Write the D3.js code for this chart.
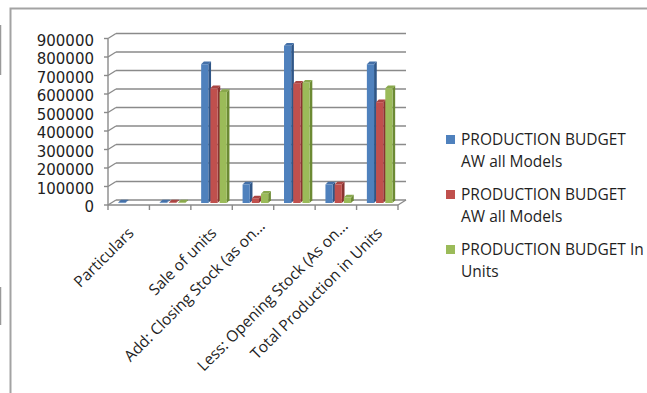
<!DOCTYPE html>
<html>
<head>
<meta charset="utf-8">
<script src="https://cdn.jsdelivr.net/npm/d3@7"></script>
<style>
  html, body { margin: 0; padding: 0; background: #fff; }
  svg { display: block; }
  text { font-family: "Open Sans", "Noto Sans", sans-serif; fill: #1f1f1f; }
  .ylab { font-family: "DejaVu Sans", "Open Sans", sans-serif; }
</style>
</head>
<body>
<svg id="chart" width="647" height="393"></svg>
<script>
// Production budget rows (category axis)
const categories = [
  "Particulars",
  "",
  "Sale of units",
  "Add: Closing Stock (as on...",
  "",
  "Less: Opening Stock (As on...",
  "Total Production in Units"
];

// Series values, one per category
const blueValues  = [3000, 3000, 750000, 100000, 850000, 100000, 750000];
const redValues   = [0,    3000, 620000,  25000, 645000, 100000, 545000];
const greenValues = [0,    3000, 600000,  50000, 650000,  30000, 620000];

// Legend text, wrapped the way it is shown
const legendLabels = [
  ["PRODUCTION BUDGET", "AW all Models"],
  ["PRODUCTION BUDGET", "AW all Models"],
  ["PRODUCTION BUDGET In", "Units"]
];

// Value axis ticks
const yTicks = [0, 100000, 200000, 300000, 400000, 500000, 600000, 700000, 800000, 900000];

const seriesValues = [blueValues, redValues, greenValues];
const faceColors = [
  { front: "#4f81bd", side: "#2f5687", top: "#4470a8" },
  { front: "#c0504d", side: "#8a3331", top: "#aa4542" },
  { front: "#9bbb59", side: "#6c8a34", top: "#89a84c" }
];

const svg = d3.select("#chart");

// Chart-area frame
svg.append("rect")
  .attr("x", 10.5).attr("y", 8.5).attr("width", 700).attr("height", 500)
  .attr("fill", "none").attr("stroke", "#a3a3a3").attr("stroke-width", 2);

// Fragments of neighbouring elements along the left margin
svg.append("line").attr("x1", 0.5).attr("x2", 0.5).attr("y1", 25).attr("y2", 75)
  .attr("stroke", "#9a9a9a").attr("stroke-width", 1.5);
svg.append("line").attr("x1", 0.5).attr("x2", 0.5).attr("y1", 287).attr("y2", 325)
  .attr("stroke", "#9a9a9a").attr("stroke-width", 1.5);

// Front-plane scales
const x = d3.scaleBand().domain(d3.range(categories.length)).range([108, 398]);
const xSub = d3.scaleBand().domain([0, 1, 2]).range([0, x.bandwidth()]).paddingOuter(0.75);
const y = d3.scaleLinear().domain([0, 900000]).range([205, 38.5]);

// Oblique offsets: wall depth, bar placement and bar depth
const wall = { dx: 8, dy: -5 };
const barOff = { dx: 3.4, dy: -2 };
const barDepth = { dx: 2.7, dy: -2.7 };
const barFrontRatio = 0.78;

const x0 = x.range()[0], x1 = x.range()[1];
const gridColor = "#8a8a8a";

// Back-wall and side-wall gridlines
const grid = svg.append("g");
yTicks.forEach(t => {
  const yf = y(t), yb = y(t) + wall.dy;
  grid.append("line")
    .attr("x1", x0 + wall.dx).attr("x2", x1 + wall.dx)
    .attr("y1", yb).attr("y2", yb)
    .attr("stroke", gridColor).attr("stroke-width", 1.4);
  grid.append("line")
    .attr("x1", x0).attr("y1", yf).attr("x2", x0 + wall.dx).attr("y2", yb)
    .attr("stroke", gridColor).attr("stroke-width", 1.4);
});

// Floor outline (front edge = category axis, right edge)
svg.append("line")
  .attr("x1", x0).attr("x2", x1).attr("y1", y(0)).attr("y2", y(0))
  .attr("stroke", gridColor).attr("stroke-width", 1.4);
svg.append("line")
  .attr("x1", x1).attr("y1", y(0)).attr("x2", x1 + wall.dx).attr("y2", y(0) + wall.dy)
  .attr("stroke", gridColor).attr("stroke-width", 1.4);

// Value axis line and ticks
svg.append("line")
  .attr("x1", x0).attr("x2", x0).attr("y1", y(900000)).attr("y2", y(0))
  .attr("stroke", gridColor).attr("stroke-width", 1.4);
const yAxis = svg.append("g");
yTicks.forEach(t => {
  yAxis.append("line")
    .attr("x1", x0 - 4).attr("x2", x0).attr("y1", y(t)).attr("y2", y(t))
    .attr("stroke", gridColor).attr("stroke-width", 1.4);
  yAxis.append("text")
    .attr("class", "ylab")
    .attr("x", 94).attr("y", y(t) + 2)
    .attr("text-anchor", "end").attr("dominant-baseline", "central")
    .style("font-size", "15px")
    .text(t);
});

// Category axis ticks at band boundaries
const bounds = d3.range(categories.length + 1).map(i => x0 + i * x.step());
bounds.forEach(bx => {
  svg.append("line")
    .attr("x1", bx).attr("x2", bx).attr("y1", y(0)).attr("y2", y(0) + 5)
    .attr("stroke", gridColor).attr("stroke-width", 1.4);
});

// Category labels, rotated
categories.forEach((c, i) => {
  if (!c) return;
  const cx = x(i) + x.bandwidth() / 2;
  const shift = c.endsWith("...") ? 7 : 0;
  svg.append("text")
    .attr("text-anchor", "end")
    .attr("transform", `translate(${cx + 6 + shift},${234 - shift}) rotate(-45)`)
    .style("font-size", "15.5px")
    .text(c);
});

// 3D columns, drawn left to right so nearer faces overlap correctly
const bars = svg.append("g");
categories.forEach((c, i) => {
  seriesValues.forEach((vals, s) => {
    const v = vals[i];
    if (!v) return;
    const w = xSub.bandwidth() * barFrontRatio;
    const xf = x(i) + xSub(s) + barOff.dx;
    const yBase = y(0) + barOff.dy;
    const yTop = y(v) + barOff.dy;
    const col = faceColors[s];
    const g = bars.append("g");
    g.append("polygon")
      .attr("points", [
        [xf + w, yTop], [xf + w + barDepth.dx, yTop + barDepth.dy],
        [xf + w + barDepth.dx, yBase + barDepth.dy], [xf + w, yBase]
      ].join(" "))
      .attr("fill", col.side);
    g.append("polygon")
      .attr("points", [
        [xf, yTop], [xf + barDepth.dx, yTop + barDepth.dy],
        [xf + w + barDepth.dx, yTop + barDepth.dy], [xf + w, yTop]
      ].join(" "))
      .attr("fill", col.top);
    g.append("rect")
      .attr("x", xf).attr("y", yTop)
      .attr("width", w).attr("height", Math.max(0.6, yBase - yTop))
      .attr("fill", col.front);
  });
});

// Legend
const legend = svg.append("g");
legendLabels.forEach((lines, i) => {
  const base = 145 + i * 55;
  legend.append("rect")
    .attr("x", 446).attr("y", base - 10).attr("width", 9).attr("height", 9)
    .attr("fill", faceColors[i].front);
  lines.forEach((ln, k) => {
    legend.append("text")
      .attr("x", 461).attr("y", base + k * 21.5)
      .style("font-size", "15.5px")
      .text(ln);
  });
});
</script>
</body>
</html>
